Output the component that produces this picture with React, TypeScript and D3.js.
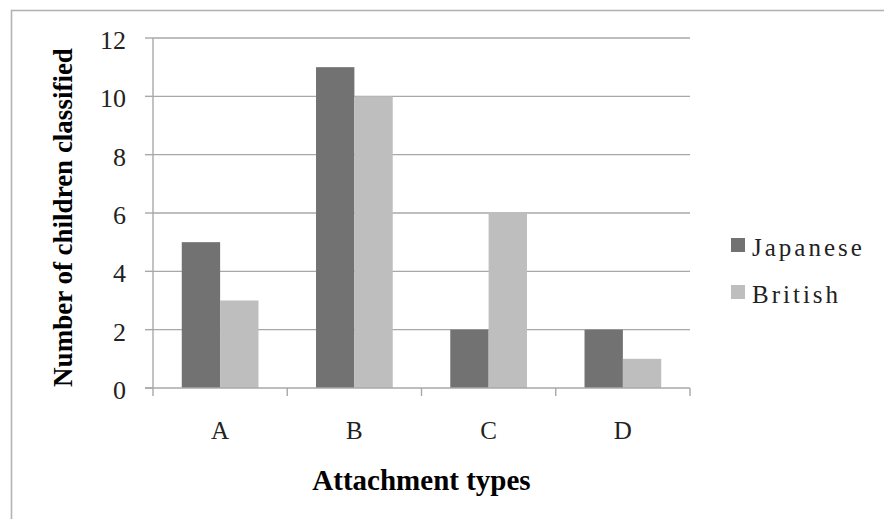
import React from "react";
import * as d3 from "d3";

const categories = ["A", "B", "C", "D"];
const seriesNames = ["Japanese", "British"];
const japanese = [5, 11, 2, 2];
const british = [3, 10, 6, 1];
const yTicks = [0, 2, 4, 6, 8, 10, 12];

const W = 884;
const H = 519;
const colors = ["#727272", "#bebebe"];
const gridColor = "#a8a8a8";
const labelFont = "'Liberation Serif', 'DejaVu Serif', serif";

export default function App() {
  const left = 153;
  const right = 690;
  const top = 38;
  const bottom = 388;

  const y = d3.scaleLinear().domain([0, 12]).range([bottom, top]);
  const x0 = d3.scaleBand<string>().domain(categories).range([left, right]).paddingInner(0).paddingOuter(0);
  const x1 = d3
    .scaleBand<string>()
    .domain(seriesNames)
    .range([0, x0.bandwidth()])
    .paddingInner(0)
    .paddingOuter(0.75);

  const values = [japanese, british];

  return (
    <svg
      width={W}
      height={H}
      style={{ position: "absolute", left: 0, top: 0, background: "#fff" }}
    >
      {/* chart frame */}
      <rect x={11.5} y={10.5} width={1000} height={1000} fill="none" stroke="#b3b3b3" strokeWidth={1.6} />

      {/* gridlines */}
      {yTicks.filter((t) => t > 0).map((t) => (
        <line key={"g" + t} x1={left} x2={right} y1={y(t)} y2={y(t)} stroke={gridColor} strokeWidth={1.4} />
      ))}

      {/* bars */}
      {categories.map((c, i) => (
        <g key={c} transform={`translate(${x0(c)},0)`}>
          {seriesNames.map((s, j) => (
            <rect
              key={s}
              x={x1(s)}
              y={y(values[j][i])}
              width={x1.bandwidth()}
              height={y(0) - y(values[j][i])}
              fill={colors[j]}
            />
          ))}
        </g>
      ))}

      {/* y axis */}
      <line x1={left} x2={left} y1={top} y2={bottom} stroke={gridColor} strokeWidth={1.4} />
      {yTicks.map((t) => (
        <g key={"yt" + t}>
          <line x1={left - 8} x2={left} y1={y(t)} y2={y(t)} stroke={gridColor} strokeWidth={1.4} />
          <text
            x={126}
            y={y(t) + 11}
            textAnchor="end"
            fontFamily={labelFont}
            fontSize={26}
            fill="#222"
          >
            {t}
          </text>
        </g>
      ))}

      {/* x axis */}
      <line x1={left - 8} x2={right} y1={bottom} y2={bottom} stroke={gridColor} strokeWidth={1.4} />
      {[...categories.map((c) => x0(c) as number), right].map((xv, i) => (
        <line key={"xt" + i} x1={xv} x2={xv} y1={bottom} y2={bottom + 8} stroke={gridColor} strokeWidth={1.4} />
      ))}
      {categories.map((c) => (
        <text
          key={"xl" + c}
          x={(x0(c) as number) + x0.bandwidth() / 2}
          y={439}
          textAnchor="middle"
          fontFamily={labelFont}
          fontSize={25}
          fill="#222"
        >
          {c}
        </text>
      ))}

      {/* axis titles */}
      <text
        x={(left + right) / 2}
        y={490}
        textAnchor="middle"
        fontFamily={labelFont}
        fontWeight="bold"
        fontSize={29}
        fill="#000"
      >
        Attachment types
      </text>
      <text
        transform={`translate(72,${(47 + 388) / 2}) rotate(-90)`}
        textAnchor="middle"
        fontFamily={labelFont}
        fontWeight="bold"
        fontSize={27}
        fill="#000"
      >
        Number of children classified
      </text>

      {/* legend */}
      {seriesNames.map((s, j) => (
        <g key={"lg" + s} transform={`translate(731,${238 + j * 47})`}>
          <rect x={0} y={0} width={14} height={14} fill={colors[j]} />
          <text
            x={21}
            y={18}
            fontFamily={labelFont}
            fontSize={25}
            letterSpacing={3}
            fill="#222"
          >
            {s}
          </text>
        </g>
      ))}
    </svg>
  );
}
